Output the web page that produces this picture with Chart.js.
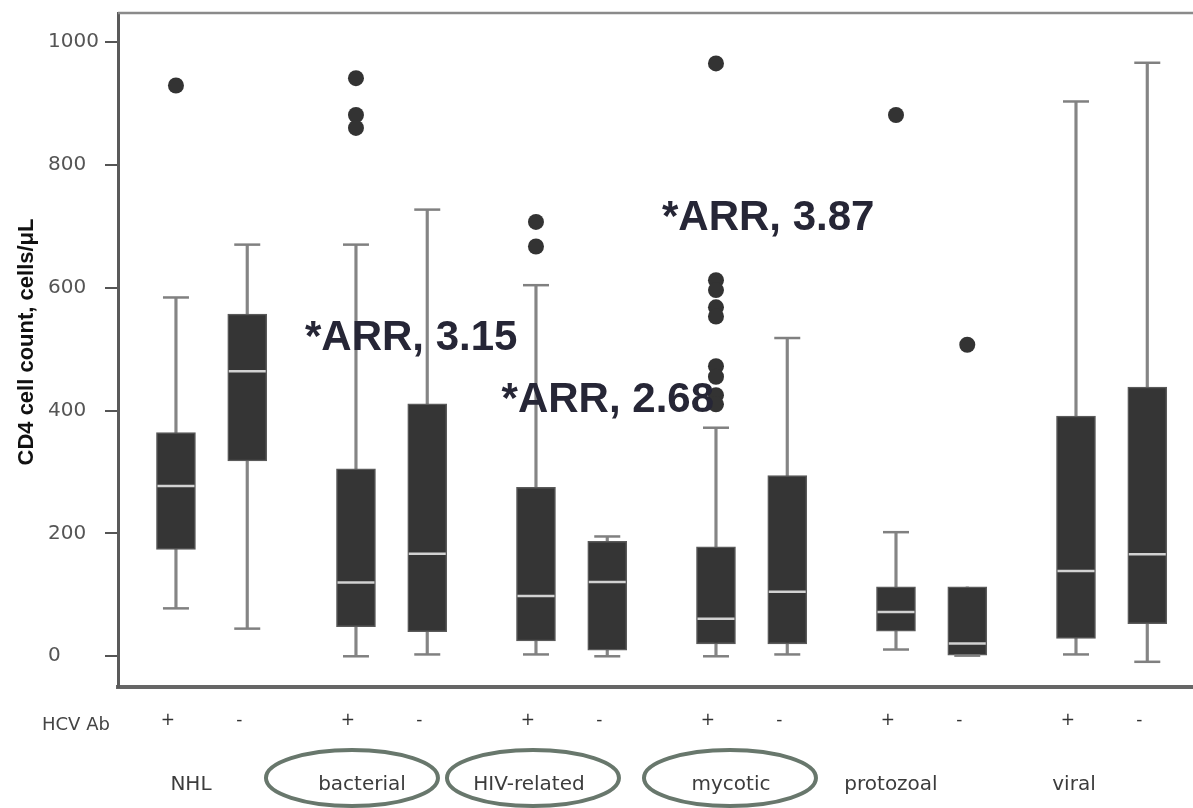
<!DOCTYPE html>
<html><head><meta charset="utf-8">
<script src="https://cdn.jsdelivr.net/npm/chart.js@4.4.1/dist/chart.umd.min.js"></script>
<style>html,body{margin:0;padding:0;background:#fff;overflow:hidden}canvas{display:block}</style>
</head><body>
<canvas id="c" width="1193" height="808"></canvas>
<script>
// ---- data ----
const categories = ['NHL', 'bacterial', 'HIV-related', 'mycotic', 'protozoal', 'viral'];
const hcvLabels = ['+', '-'];
const circledCategories = ['bacterial', 'HIV-related', 'mycotic'];
const yTicks = [0, 200, 400, 600, 800, 1000];
// one entry per box: NHL+, NHL-, bacterial+, bacterial-, HIV+, HIV-, mycotic+, mycotic-, protozoal+, protozoal-, viral+, viral-
const whiskerLow  = [78, 45, 0, 3, 3, 0, 0, 3, 11, 1, 3, -9];
const q1          = [174, 318, 48, 40, 25, 10, 20, 20, 41, 2, 29, 53];
const median      = [277, 464, 120, 167, 98, 121, 61, 105, 72, 21, 139, 166];
const q3          = [364, 557, 305, 411, 275, 187, 178, 294, 113, 113, 391, 438];
const whiskerHigh = [584, 670, 670, 727, 604, 195, 372, 518, 202, 113, 903, 966];
// outliers: [box index, value]
const outliers = [
  [0, 929],
  [2, 941], [2, 881], [2, 860],
  [4, 707], [4, 667],
  [6, 965], [6, 612], [6, 596], [6, 568], [6, 553], [6, 472], [6, 455], [6, 425], [6, 410],
  [8, 881],
  [9, 507]
];
const arrLabels = ['*ARR, 3.15', '*ARR, 2.68', '*ARR, 3.87'];

// ---- layout (not data) ----
const PAIR_GAP = 0.396;
const arrAnchors = [{x: 0.717, y: 498}, {x: 1.809, y: 397}, {x: 2.70, y: 694}];
const labelNudgePx = [15, 6, -7, 15, -5, -2];
const ellipseNudgePx = [0, -4, -3, 14, 0, 0];
const boxIdx = whiskerLow.map((_, i) => i);
const xOf = i => Math.floor(i / 2) + (i % 2) * PAIR_GAP;

const decor = {
  id: 'decor',
  afterDraw(chart) {
    const {ctx, chartArea: a, scales: {x, y}} = chart;
    ctx.save();
    // top frame line
    ctx.strokeStyle = '#8a8a8a'; ctx.lineWidth = 2.5;
    ctx.beginPath(); ctx.moveTo(a.left, a.top); ctx.lineTo(a.right, a.top); ctx.stroke();
    // y title
    ctx.save();
    ctx.translate(33, (a.top + a.bottom) / 2 - 8);
    ctx.rotate(-Math.PI / 2);
    ctx.font = 'bold 22px "Liberation Sans", Arial, sans-serif';
    ctx.fillStyle = '#111'; ctx.textAlign = 'center'; ctx.textBaseline = 'alphabetic';
    ctx.fillText('CD4 cell count, cells/\u03bcL', 0, 0);
    ctx.restore();
    // HCV Ab
    ctx.font = '18px "DejaVu Sans", Verdana, sans-serif';
    ctx.fillStyle = '#444'; ctx.textAlign = 'left'; ctx.textBaseline = 'alphabetic';
    ctx.fillText('HCV Ab', 42, 730);
    // category labels + ellipses
    ctx.font = '20px "DejaVu Sans", Verdana, sans-serif';
    ctx.textAlign = 'center';
    categories.forEach((c, g) => {
      const gx = x.getPixelForValue(g);
      ctx.fillStyle = '#3c3c3c';
      ctx.fillText(c, gx + labelNudgePx[g], 790);
      if (circledCategories.includes(c)) {
        ctx.strokeStyle = '#68776c'; ctx.lineWidth = 4;
        ctx.beginPath(); ctx.ellipse(gx + ellipseNudgePx[g], 778, 86, 28, 0, 0, Math.PI * 2); ctx.stroke();
      }
    });
    // ARR annotations
    ctx.font = 'bold 42px "Liberation Sans", Arial, sans-serif';
    ctx.fillStyle = '#262636'; ctx.textAlign = 'left'; ctx.textBaseline = 'alphabetic';
    arrLabels.forEach((t, k) => {
      ctx.fillText(t, x.getPixelForValue(arrAnchors[k].x), y.getPixelForValue(arrAnchors[k].y));
    });
    ctx.restore();
  }
};

const capPts = [];
boxIdx.forEach(i => {
  if (whiskerHigh[i] > q3[i]) capPts.push({x: xOf(i), y: whiskerHigh[i]});
  if (whiskerLow[i] < q1[i]) capPts.push({x: xOf(i), y: whiskerLow[i]});
});

const noPad = s => { s.paddingTop = 0; s.paddingBottom = 0; s.paddingLeft = 0; s.paddingRight = 0; };

new Chart(document.getElementById('c'), {
  type: 'bar',
  data: {
    datasets: [
      { type: 'bar', data: boxIdx.map(i => ({x: xOf(i), y: [whiskerLow[i], whiskerHigh[i]]})),
        backgroundColor: '#858585', borderWidth: 0, barThickness: 2.5, grouped: false, order: 5 },
      { type: 'bar', data: boxIdx.map(i => ({x: xOf(i), y: [q1[i], q3[i]]})),
        backgroundColor: '#353535', borderColor: '#5a5a5a', borderWidth: 1.5, borderSkipped: false,
        barThickness: 39, grouped: false, order: 4 },
      { type: 'line', showLine: false, data: capPts,
        pointStyle: 'line', pointRadius: 13, pointBorderWidth: 2.5, pointBorderColor: '#808080', order: 3 },
      { type: 'line', showLine: false, data: boxIdx.map(i => ({x: xOf(i), y: median[i]})),
        pointStyle: 'line', pointRadius: 18.5, pointBorderWidth: 2.5, pointBorderColor: '#d2d2d2', order: 2 },
      { type: 'line', showLine: false, data: outliers.map(([i, v]) => ({x: xOf(i), y: v})),
        pointStyle: 'circle', pointRadius: 8, pointBorderWidth: 0, pointBackgroundColor: '#333333', order: 1 }
    ]
  },
  options: {
    responsive: false, animation: false, events: [],
    layout: {autoPadding: false, padding: {left: 48, right: 0, top: 13, bottom: 0}},
    plugins: {legend: {display: false}, tooltip: {enabled: false}},
    scales: {
      x: {
        type: 'linear', min: -0.322, max: 5.65, offset: false,
        grid: {display: false, offset: false},
        border: {display: true, color: '#666', width: 4},
        afterBuildTicks: s => { s.ticks = boxIdx.map(i => ({value: xOf(i)})); },
        afterFit: s => { s.height = 121; noPad(s); },
        ticks: {
          autoSkip: false, maxRotation: 0, padding: 15, labelOffset: -8,
          color: '#333', font: {family: '"DejaVu Sans", Verdana, sans-serif', size: 17},
          callback: (v, idx) => hcvLabels[idx % 2]
        }
      },
      y: {
        type: 'linear', min: -50, max: 1047,
        grid: {display: true, drawOnChartArea: false, drawTicks: true, tickLength: 13, color: '#555', lineWidth: 2},
        border: {display: true, color: '#5a5a5a', width: 3},
        afterBuildTicks: s => { s.ticks = yTicks.map(v => ({value: v})); },
        afterFit: s => { s.width = 70; noPad(s); },
        ticks: {
          crossAlign: 'far', padding: 4, color: '#555',
          font: {family: '"DejaVu Sans", Verdana, sans-serif', size: 20},
          callback: v => String(v)
        }
      }
    }
  },
  plugins: [decor]
});
</script>
</body></html>
